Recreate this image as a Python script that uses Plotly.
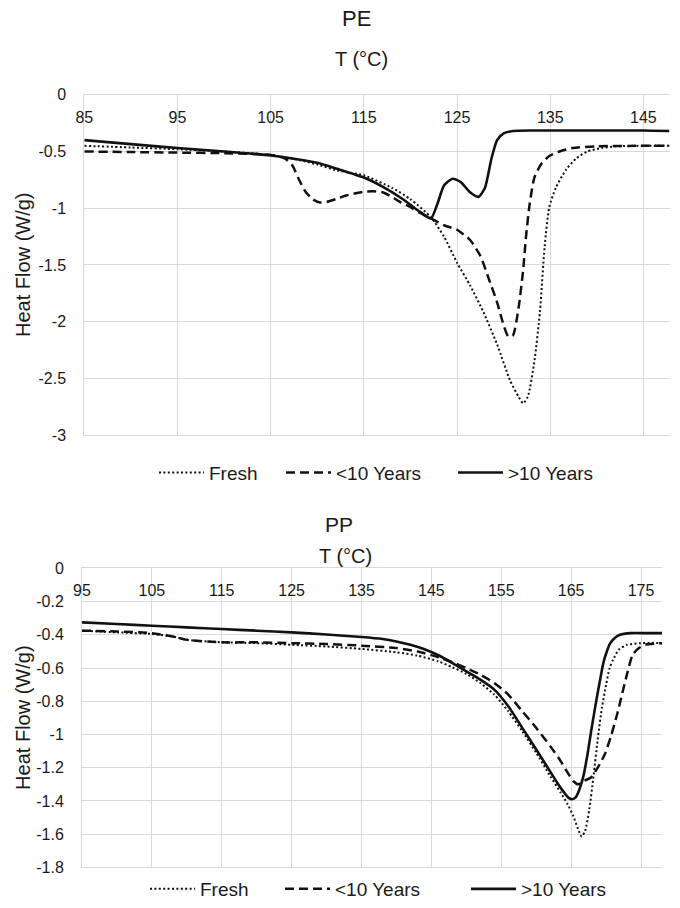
import plotly.graph_objects as go

# ---------------- PE data (T in °C, heat flow in W/g) ----------------
pe_fresh_x = [85, 90, 95, 100, 105, 108, 110, 112, 115, 118, 120, 122.2, 123.6, 125, 126.4, 127.8, 129.3, 130.7,
              131.6, 132.1, 132.6, 133.3, 133.9, 134.4, 134.9, 135.6, 136.7, 137.8, 139, 140.5, 142, 145, 147.8]
pe_fresh_y = [-0.45, -0.465, -0.48, -0.50, -0.53, -0.575, -0.615, -0.665, -0.71, -0.82, -0.92, -1.08, -1.25, -1.48,
              -1.68, -1.91, -2.20, -2.52, -2.66, -2.72, -2.66, -2.35, -1.91, -1.34, -0.99, -0.82, -0.66, -0.56,
              -0.50, -0.47, -0.455, -0.45, -0.45]

pe_lt10_x = [85, 90, 95, 100, 105, 106.5, 107.3, 108, 108.7, 109.5, 110.3, 111, 112, 113, 114, 115, 116, 117, 118,
             119, 120, 121, 122.2, 123.6, 125, 126.4, 127.5, 128.4, 129.3, 130.0, 130.5, 131.0, 131.6, 132.1, 132.4,
             132.8, 133.3, 134.0, 134.9, 136.0, 137.4, 140, 145, 147.8]
pe_lt10_y = [-0.50, -0.505, -0.51, -0.515, -0.53, -0.56, -0.62, -0.74, -0.85, -0.92, -0.95, -0.945, -0.92, -0.89,
             -0.87, -0.855, -0.85, -0.86, -0.90, -0.95, -0.99, -1.04, -1.09, -1.15, -1.19, -1.28, -1.42, -1.62,
             -1.83, -2.03, -2.13, -2.12, -1.88, -1.54, -1.25, -0.96, -0.73, -0.615, -0.54, -0.50, -0.47, -0.455,
             -0.45, -0.45]

pe_gt10_x = [85, 90, 95, 100, 105, 108, 110, 112, 115, 117, 119, 120, 121, 122.2, 122.9, 123.6, 124.5, 125.4,
             126.4, 127.3, 128.0, 128.7, 129.3, 130.0, 131.0, 133, 136, 140, 145, 147.8]
pe_gt10_y = [-0.40, -0.435, -0.47, -0.50, -0.535, -0.57, -0.60, -0.65, -0.73, -0.81, -0.91, -0.97, -1.03, -1.09,
             -0.96, -0.80, -0.74, -0.77, -0.86, -0.90, -0.82, -0.56, -0.40, -0.34, -0.32, -0.315, -0.315, -0.315,
             -0.315, -0.32]

# ---------------- PP data ----------------
pp_fresh_x = [95, 100, 105, 108, 110, 115, 120, 125, 130, 135, 140, 143, 146, 148, 150, 152, 154, 156, 158, 160,
              162, 163.5, 164.5, 165.3, 166, 166.5, 167, 167.6, 168.2, 168.8, 169.4, 170, 170.5, 171, 171.8, 173,
              175, 178]
pp_fresh_y = [-0.375, -0.385, -0.395, -0.41, -0.43, -0.445, -0.45, -0.46, -0.47, -0.485, -0.505, -0.525, -0.56,
              -0.595, -0.635, -0.69, -0.76, -0.86, -0.98, -1.11, -1.25, -1.35, -1.42, -1.49, -1.57, -1.615, -1.58,
              -1.45, -1.25, -1.03, -0.84, -0.70, -0.60, -0.55, -0.49, -0.46, -0.45, -0.45]

pp_lt10_x = [95, 100, 105, 108, 110, 115, 120, 125, 130, 135, 140, 143, 146, 148, 150, 152, 154, 156, 158, 160,
             162, 163.5, 164.5, 165.3, 166, 166.8, 167.8, 168.8, 169.8, 170.7, 171.6, 172.5, 173.1, 173.8, 174.7,
             175.6, 178]
pp_lt10_y = [-0.375, -0.38, -0.39, -0.41, -0.43, -0.445, -0.445, -0.45, -0.455, -0.465, -0.48, -0.50, -0.535,
             -0.565, -0.60, -0.64, -0.69, -0.76, -0.86, -0.96, -1.07, -1.16, -1.23, -1.28, -1.30, -1.28, -1.26,
             -1.20, -1.12, -1.01, -0.875, -0.72, -0.62, -0.52, -0.48, -0.46, -0.45]

pp_gt10_x = [95, 100, 105, 110, 115, 120, 125, 130, 135, 138, 140, 142, 144, 146, 148, 150, 152, 154, 156, 158,
             160, 161.5, 163, 164, 164.6, 165.1, 165.6, 166.1, 166.7, 167.3, 167.9, 168.5, 169.1, 169.6, 170.1,
             170.6, 171.2, 172, 173.5, 176, 178]
pp_gt10_y = [-0.325, -0.335, -0.345, -0.355, -0.365, -0.375, -0.385, -0.398, -0.413, -0.425, -0.44, -0.46, -0.487,
             -0.523, -0.57, -0.62, -0.67, -0.73, -0.83, -0.96, -1.09, -1.19, -1.29, -1.35, -1.38, -1.39, -1.38,
             -1.34, -1.26, -1.13, -0.97, -0.82, -0.68, -0.57, -0.50, -0.45, -0.42, -0.40, -0.39, -0.39, -0.39]

# ---------------- labels / ticks ----------------
series_names = ["Fresh", "<10 Years", ">10 Years"]
pe_xticks = [85, 95, 105, 115, 125, 135, 145]
pe_yticks = [0, -0.5, -1, -1.5, -2, -2.5, -3]
pe_ytext = ["0", "-0.5", "-1", "-1.5", "-2", "-2.5", "-3"]
pp_xticks = [95, 105, 115, 125, 135, 145, 155, 165, 175]
pp_yticks = [0, -0.2, -0.4, -0.6, -0.8, -1, -1.2, -1.4, -1.6, -1.8]
pp_ytext = ["0", "-0.2", "-0.4", "-0.6", "-0.8", "-1", "-1.2", "-1.4", "-1.6", "-1.8"]

W, H = 680, 908
FONT = "Liberation Sans, Arial, sans-serif"
INK = "#1a1a1a"
GRID = "#d9d9d9"

def px_x(p):
    return p / W

def px_y(p):
    return 1 - p / H

styles = [
    dict(color="#111111", width=2, dash="2px,2.4px"),
    dict(color="#111111", width=2.5, dash="9px,5px"),
    dict(color="#111111", width=2.6),
]

fig = go.Figure()

pe_data = [(pe_fresh_x, pe_fresh_y), (pe_lt10_x, pe_lt10_y), (pe_gt10_x, pe_gt10_y)]
pp_data = [(pp_fresh_x, pp_fresh_y), (pp_lt10_x, pp_lt10_y), (pp_gt10_x, pp_gt10_y)]

for i, (xs, ys) in enumerate(pe_data):
    fig.add_trace(go.Scatter(x=xs, y=ys, mode="lines", name=series_names[i], showlegend=True,
                             line=dict(shape="spline", smoothing=0.6, **styles[i]),
                             xaxis="x", yaxis="y",
                             legend="legend" if i == 0 else f"legend{i + 1}"))
for i, (xs, ys) in enumerate(pp_data):
    fig.add_trace(go.Scatter(x=xs, y=ys, mode="lines", name=series_names[i], showlegend=True,
                             line=dict(shape="spline", smoothing=0.6, **styles[i]),
                             xaxis="x2", yaxis="y2", legend=f"legend{i + 4}"))

xax_common = dict(side="top", ticks="", showgrid=True, gridcolor=GRID, gridwidth=1,
                  showline=True, mirror=True, linecolor=GRID, linewidth=1, zeroline=False,
                  ticklabelposition="inside", ticklabeloverflow="allow", ticklabelstandoff=17,
                  tickfont=dict(family=FONT, size=16, color=INK), tickmode="array", fixedrange=True)
yax_common = dict(ticks="", showgrid=True, gridcolor=GRID, gridwidth=1, zeroline=False,
                  showline=True, linecolor=GRID, linewidth=1, ticklabelstandoff=14, tickmode="array",
                  tickfont=dict(family=FONT, size=16, color=INK), fixedrange=True)

top_dom_x = [px_x(84.3), px_x(669.5)]
top_dom_y = [px_y(441), px_y(96)]
bot_dom_x = [px_x(82), px_x(662)]
bot_dom_y = [px_y(879), px_y(576)]

fig.update_layout(
    width=W, height=H,
    margin=dict(l=0, r=0, t=0, b=0),
    paper_bgcolor="white", plot_bgcolor="white",
    showlegend=True,
    font=dict(family=FONT, color=INK),
    xaxis=dict(domain=top_dom_x, anchor="y", range=[85, 147.8], tickvals=pe_xticks,
               ticktext=[str(v) for v in pe_xticks], automargin=False, **xax_common),
    yaxis=dict(domain=top_dom_y, anchor="x", range=[-3, 0], tickvals=pe_yticks, ticktext=pe_ytext,
               automargin=False, **yax_common),
    xaxis2=dict(domain=bot_dom_x, anchor="y2", range=[95, 178], tickvals=pp_xticks,
                ticktext=[str(v) for v in pp_xticks], automargin=False, **xax_common),
    yaxis2=dict(domain=bot_dom_y, anchor="x2", range=[-1.8, 0], tickvals=pp_yticks, ticktext=pp_ytext,
                automargin=False, **yax_common),
)

# legends: one per entry, placed individually
leg_font = dict(family=FONT, size=19, color=INK)
top_leg_text_x = [209, 336, 508]
bot_leg_text_x = [200, 335, 521]
TEXT_OFF = 55
legend_layout = {}
for i in range(3):
    key = "legend" if i == 0 else f"legend{i + 1}"
    legend_layout[key] = dict(x=px_x(top_leg_text_x[i] - TEXT_OFF), y=px_y(479), xanchor="left",
                              yanchor="middle", orientation="h", font=leg_font, itemwidth=45,
                              bgcolor="rgba(0,0,0,0)", borderwidth=0, visible=True)
for i in range(3):
    key = f"legend{i + 4}"
    legend_layout[key] = dict(x=px_x(bot_leg_text_x[i] - TEXT_OFF), y=px_y(901), xanchor="left",
                              yanchor="middle", orientation="h", font=leg_font, itemwidth=45,
                              bgcolor="rgba(0,0,0,0)", borderwidth=0, visible=True)
fig.update_layout(**legend_layout)

title_font = dict(family=FONT, color=INK)
annotations = [
    dict(text="PE", x=px_x(356), y=px_y(19), font=dict(size=22, **title_font)),
    dict(text="T (°C)", x=px_x(361), y=px_y(60), font=dict(size=20, **title_font)),
    dict(text="PP", x=px_x(339), y=px_y(532), font=dict(size=21, **title_font)),
    dict(text="T (°C)", x=px_x(345), y=px_y(563), font=dict(size=20, **title_font)),
    dict(text="Heat Flow (W/g)", x=px_x(23), y=(top_dom_y[0] + top_dom_y[1]) / 2, textangle=-90,
         font=dict(size=20, **title_font)),
    dict(text="Heat Flow (W/g)", x=px_x(23), y=(bot_dom_y[0] + bot_dom_y[1]) / 2, textangle=-90,
         font=dict(size=20, **title_font)),
]
for a in annotations:
    a.update(xref="paper", yref="paper", showarrow=False, xanchor="center", yanchor="middle")
fig.update_layout(annotations=annotations)

fig.write_html("out.html")
